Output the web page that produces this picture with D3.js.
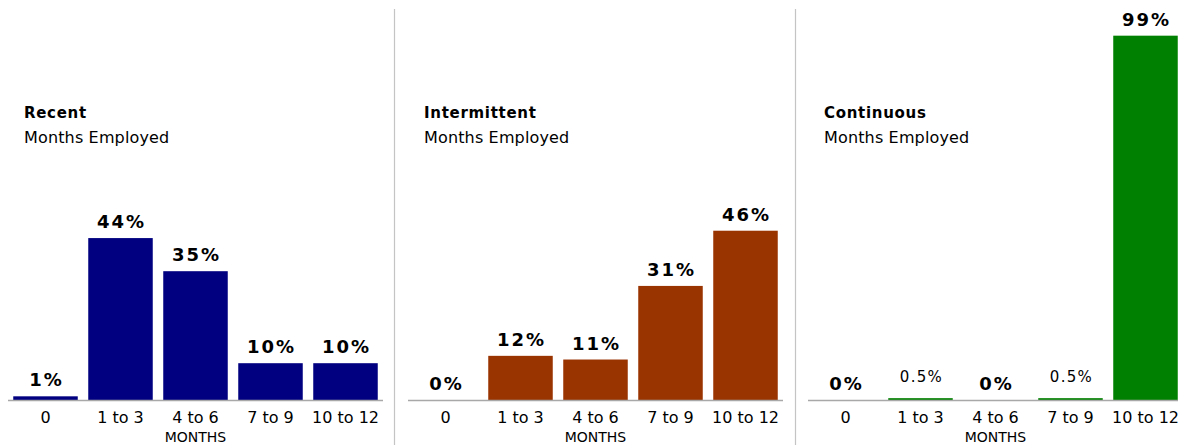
<!DOCTYPE html>
<html>
<head>
<meta charset="utf-8">
<script src="https://cdn.jsdelivr.net/npm/d3@7/dist/d3.min.js"></script>
<style>
  html, body { margin: 0; padding: 0; background: #fff; }
  svg { display: block; }
  text { font-family: "DejaVu Sans", Verdana, sans-serif; fill: #000; }
</style>
</head>
<body>
<svg id="chart" width="1178" height="445"></svg>
<script>
const categories = ["0", "1 to 3", "4 to 6", "7 to 9", "10 to 12"];
const panelTitles = ["Recent", "Intermittent", "Continuous"];
const subtitle = "Months Employed";
const axisTitle = "MONTHS";
const recentValues = [1, 44, 35, 10, 10];
const intermittentValues = [0, 12, 11, 31, 46];
const continuousValues = [0, 0.5, 0, 0.5, 99];
const valueLabels = [
  ["1%", "44%", "35%", "10%", "10%"],
  ["0%", "12%", "11%", "31%", "46%"],
  ["0%", "0.5%", "0%", "0.5%", "99%"]
];
const colors = ["#000080", "#993300", "#008000"];

const series = [recentValues, intermittentValues, continuousValues];
const svg = d3.select("#chart");
const panelWidth = 400;
const baseY = 400;

const x = d3.scaleBand().domain(categories).range([8, 383]).paddingInner(0.14).paddingOuter(0.07);
const y = d3.scaleLinear().domain([0, 100]).range([baseY, 32]);

// separators
[394.5, 795.5].forEach(sx => {
  svg.append("line").attr("x1", sx).attr("x2", sx).attr("y1", 9).attr("y2", 445)
    .attr("stroke", "#c4c4c4").attr("stroke-width", 1.2);
});

series.forEach((vals, pi) => {
  const g = svg.append("g").attr("transform", `translate(${pi * panelWidth},0)`);

  g.append("text").attr("x", 24).attr("y", 118)
    .style("font-size", "15px").style("font-weight", "bold").style("letter-spacing", "0.7px")
    .text(panelTitles[pi]);
  g.append("text").attr("x", 24).attr("y", 143)
    .style("font-size", "16px").style("letter-spacing", "0.15px").text(subtitle);

  const data = categories.map((c, i) => ({ c, v: vals[i], label: valueLabels[pi][i] }));

  g.selectAll("rect.bar").data(data).join("rect").attr("class", "bar")
    .attr("x", d => x(d.c)).attr("width", x.bandwidth())
    .attr("y", d => y(d.v)).attr("height", d => baseY - y(d.v))
    .attr("fill", colors[pi]);

  // axis
  const axis = d3.axisBottom(x).tickSize(0).tickPadding(0);
  const ag = g.append("g").attr("transform", `translate(0,${baseY})`).call(axis);
  ag.select(".domain").attr("stroke", "#a8a8a8").attr("stroke-width", 1.5)
    .attr("d", `M8,0.5H${pi === 2 ? 390 : 383}`);
  ag.selectAll(".tick text").attr("y", 23).attr("dy", null)
    .style("font-size", "16px").attr("fill", "#000");

  g.append("text").attr("x", 195.5).attr("y", 442).attr("text-anchor", "middle")
    .style("font-size", "14px").text(axisTitle);

  const small = d => d.label.includes(".");
  g.selectAll("text.val").data(data).join("text").attr("class", "val")
    .attr("x", d => x(d.c) + x.bandwidth() / 2 + 1)
    .attr("y", d => small(d) ? y(d.v) - 16 : y(d.v) - 10)
    .attr("text-anchor", "middle")
    .style("font-size", d => small(d) ? "15px" : "18px")
    .style("font-weight", d => small(d) ? "normal" : "bold")
    .style("letter-spacing", d => small(d) ? "1.3px" : "2px")
    .text(d => d.label);
});
</script>
</body>
</html>
